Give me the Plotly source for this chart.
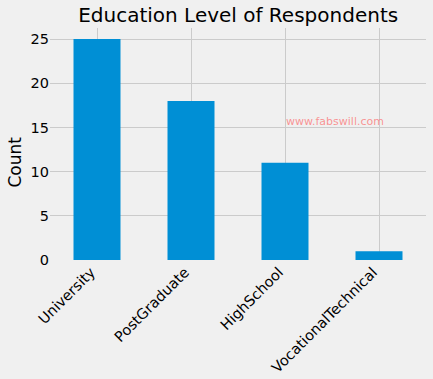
import plotly.graph_objects as go

categories = ["University", "PostGraduate", "HighSchool", "VocationalTechnical"]
counts = [25, 18, 11, 1]
y_ticks = [0, 5, 10, 15, 20, 25]

fig = go.Figure()
fig.add_trace(go.Bar(x=categories, y=counts, width=0.5, marker=dict(color="#008fd5", line=dict(width=0))))

fig.add_annotation(x=2, y=15, xref="x", yref="y", text="www.fabswill.com", showarrow=False,
                   xanchor="left", yanchor="bottom", xshift=-1, yshift=-3,
                   font=dict(family="DejaVu Sans", size=11, color="rgba(255,80,80,0.6)"))

# y-axis title
fig.add_annotation(x=-0.093, y=0.42, xref="paper", yref="paper", text="Count", showarrow=False,
                   textangle=-90, xanchor="center", yanchor="middle",
                   font=dict(family="DejaVu Sans", size=17, color="#000000"))

fig.update_layout(
    width=433, height=379,
    margin=dict(l=50, r=7, t=28, b=119),
    paper_bgcolor="#f0f0f0", plot_bgcolor="#f0f0f0",
    font=dict(family="DejaVu Sans", color="#000000", size=14),
    title=dict(text="Education Level of Respondents", x=0.55, xanchor="center", y=0.96, yanchor="middle",
               font=dict(size=20, family="DejaVu Sans")),
    showlegend=False,
    bargap=0.5,
)
fig.update_xaxes(range=[-0.5, 3.5], tickangle=-45, showgrid=True, gridcolor="#cbcbcb", gridwidth=1,
                 showline=False, zeroline=False, ticks="", tickfont=dict(size=14.5), automargin=False,
                 ticklabelshift=-6)
fig.update_yaxes(range=[0, 26.25], tickvals=y_ticks, showgrid=True, gridcolor="#cbcbcb", gridwidth=1,
                 showline=False, zeroline=False, ticks="", tickfont=dict(size=14.5), automargin=False)

fig.write_html("out.html", config={"displayModeBar": False},
               post_script="document.body.style.margin='0';document.body.style.overflow='hidden';")
